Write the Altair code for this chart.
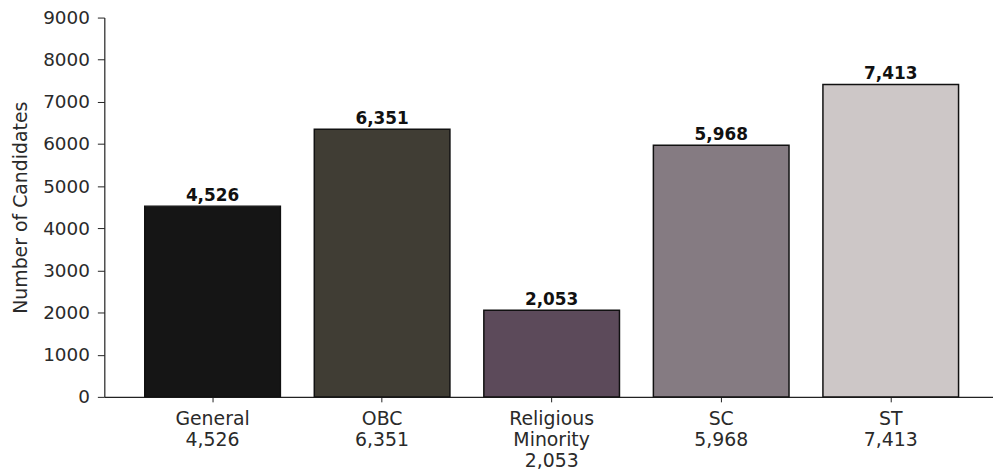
import altair as alt
import pandas as pd

categories = ["General", "OBC", "Religious Minority", "SC", "ST"]
values = [4526, 6351, 2053, 5968, 7413]
colors = ["#151515", "#403d34", "#5c4a5a", "#857b82", "#cdc7c7"]

df = pd.DataFrame({
    "cat": categories,
    "val": values,
    "lab": [f"{v:,}" for v in values],
})

label_expr = (
    "datum.value == 'General' ? ['General','4,526'] : "
    "datum.value == 'OBC' ? ['OBC','6,351'] : "
    "datum.value == 'Religious Minority' ? ['Religious','Minority','2,053'] : "
    "datum.value == 'SC' ? ['SC','5,968'] : ['ST','7,413']"
)

axis_color = "#222222"

x = alt.X("cat:N", sort=categories, title=None,
          scale=alt.Scale(paddingInner=0.2, paddingOuter=0.2208, align=0.54),
          axis=alt.Axis(labelExpr=label_expr, labelAngle=0, labelFont="DejaVu Sans",
                        labelFontSize=19, labelColor="#2a2a2a", labelLineHeight=21,
                        labelPadding=8, tickSize=5, tickColor=axis_color,
                        domainColor=axis_color, domainWidth=1.2, labelBaseline="top"))

y = alt.Y("val:Q", title="Number of Candidates",
          scale=alt.Scale(domain=[0, 9000], nice=False),
          axis=alt.Axis(values=list(range(0, 9001, 1000)), format="d", grid=False,
                        labelFont="DejaVu Sans", labelFontSize=18.5, labelColor="#2a2a2a",
                        titleFont="DejaVu Sans", titleFontSize=19, titleFontWeight="normal",
                        titleColor="#2a2a2a", titlePadding=12, tickSize=7,
                        tickColor=axis_color, domainColor=axis_color, domainWidth=1.2,
                        labelPadding=8))

bars = alt.Chart(df).mark_bar(stroke="#111111", strokeWidth=1.5).encode(
    x=x, y=y,
    color=alt.Color("cat:N", scale=alt.Scale(domain=categories, range=colors), legend=None),
)

text = alt.Chart(df).mark_text(dy=-10, font="DejaVu Sans", fontSize=17, fontWeight="bold",
                               color="#111111").encode(
    x=alt.X("cat:N", sort=categories),
    y=alt.Y("val:Q"),
    text="lab:N",
)

chart = (bars + text).properties(
    width=895, height=382,
    background="white",
    autosize=alt.AutoSizeParams(type="none"),
    padding={"left": 97, "top": 8, "right": 0, "bottom": 72},
).configure_view(stroke=None)

chart.save("out.html", embed_options={"renderer": "svg", "actions": False})
